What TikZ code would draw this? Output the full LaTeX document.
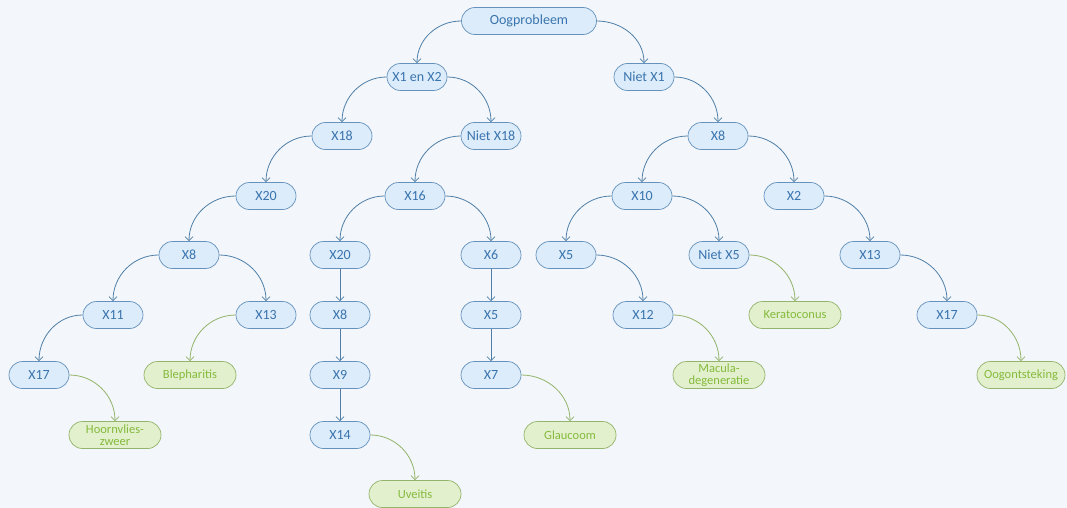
\documentclass[tikz,border=0pt]{standalone}
\usepackage{fontspec}
\setmainfont{Carlito}
\usetikzlibrary{arrows.meta}
\definecolor{bgcol}{HTML}{F3F6FA}
\definecolor{boxfill}{HTML}{DCECFA}
\definecolor{boxline}{HTML}{6592BD}
\definecolor{boxtext}{HTML}{3A74AE}
\definecolor{edgecol}{HTML}{4F7FA8}
\definecolor{leaffill}{HTML}{E3F0CE}
\definecolor{leafline}{HTML}{93B46A}
\definecolor{leaftext}{HTML}{84BA3C}
\begin{document}
\begin{tikzpicture}[x=1pt, y=-1pt,
    box/.style={draw=boxline, line width=0.7pt, rounded corners=13.5pt, minimum width=60pt, minimum height=27pt,
                inner sep=2pt, align=center, font=\fontsize{14}{14}\selectfont, fill=boxfill, text=boxtext},
    leaf/.style={box, draw=leafline, fill=leaffill, text=leaftext, minimum width=92pt,
                 font=\fontsize{12.5}{11.5}\selectfont},
    arr/.style={-{Straight Barb[length=4pt,width=8pt]}, line width=0.8pt, edgecol},
    leafarr/.style={arr, leafline},
]
\fill[bgcol] (0,0) rectangle (1067,508);
\useasboundingbox (0,0) rectangle (1067,508);

\node[box, minimum width=135pt] (oog) at (529,21) {Oogprobleem};
\node[box] (x1x2)   at (417,77)  {X1 en X2};
\node[box] (nx1)    at (644,77)  {Niet X1};
\node[box] (x18)    at (342,136) {X18};
\node[box] (nx18)   at (491,136) {Niet X18};
\node[box] (x8r)    at (718,136) {X8};
\node[box] (x20l)   at (266,196) {X20};
\node[box] (x16)    at (415,196) {X16};
\node[box] (x10)    at (642,196) {X10};
\node[box] (x2)     at (794,196) {X2};
\node[box] (x8l)    at (189,255) {X8};
\node[box] (x20m)   at (340,255) {X20};
\node[box] (x6)     at (491,255) {X6};
\node[box] (x5)     at (566,255) {X5};
\node[box] (nx5)    at (719,255) {Niet X5};
\node[box] (x13r)   at (870,255) {X13};
\node[box] (x11)    at (113,315) {X11};
\node[box] (x13l)   at (266,315) {X13};
\node[box] (x8m)    at (340,315) {X8};
\node[box] (x5m)    at (491,315) {X5};
\node[box] (x12)    at (643,315) {X12};
\node[box] (x17r)   at (947,315) {X17};
\node[box] (x17l)   at (39,375)  {X17};
\node[box] (x9)     at (340,375) {X9};
\node[box] (x7)     at (491,375) {X7};
\node[box] (x14)    at (340,435) {X14};

\node[leaf] (kera)  at (795,315)  {Keratoconus};
\node[leaf] (bleph) at (190,375)  {Blepharitis};
\node[leaf] (macu)  at (719,375)  {Macula-\\degeneratie};
\node[leaf, minimum width=88pt] (oogo) at (1021,375) {Oogontsteking};
\node[leaf] (hoorn) at (115,435)  {Hoornvlies-\\zweer};
\node[leaf] (glau)  at (570,435)  {Glaucoom};
\node[leaf] (uvei)  at (415,494)  {Uveitis};

% takken naar links en naar rechts
\foreach \a/\b in {oog/x1x2, x1x2/x18, x18/x20l, nx18/x16, x8r/x10, x20l/x8l,
                   x16/x20m, x10/x5, x8l/x11, x11/x17l}
  \draw[arr] (\a.west) to[out=180, in=90] (\b.north);
\foreach \a/\b in {oog/nx1, x1x2/nx18, nx1/x8r, x8r/x2, x16/x6, x10/nx5,
                   x2/x13r, x8l/x13l, x5/x12, x13r/x17r}
  \draw[arr] (\a.east) to[out=0, in=90] (\b.north);
% rechte ketens
\foreach \a/\b in {x20m/x8m, x8m/x9, x9/x14, x6/x5m, x5m/x7}
  \draw[arr] (\a.south) -- (\b.north);
% diagnoses
\draw[leafarr] (x13l.west) to[out=180, in=90] (bleph.north);
\foreach \a/\b in {nx5/kera, x12/macu, x17r/oogo, x17l/hoorn, x7/glau, x14/uvei}
  \draw[leafarr] (\a.east) to[out=0, in=90] (\b.north);
\end{tikzpicture}
\end{document}
